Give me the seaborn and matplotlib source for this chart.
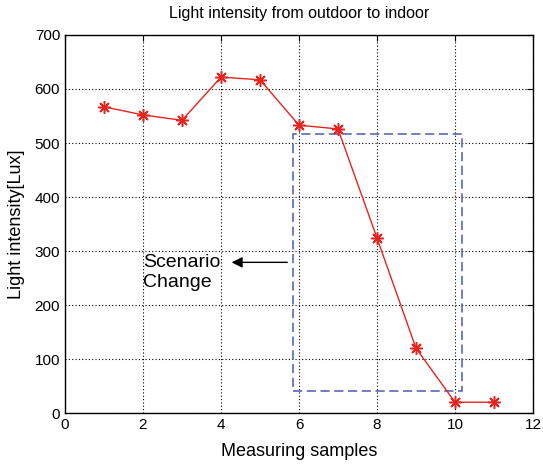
import pandas as pd
import matplotlib.pyplot as plt
import seaborn as sns
from matplotlib.patches import Rectangle

# ===============================
# Data
# ===============================
samples = [1, 2, 3, 4, 5, 6, 7, 8, 9, 10, 11]
lux = [567, 552, 542, 622, 617, 533, 526, 324, 120, 20, 20]

df = pd.DataFrame({'sample': samples, 'lux': lux})

sns.set_style('white', {'text.color': 'black', 'axes.labelcolor': 'black'})
plt.rcParams['font.family'] = ['Liberation Sans', 'DejaVu Sans']

fig = plt.figure(figsize=(5.43, 4.66), dpi=100)
ax = fig.add_axes([0.1197, 0.1137, 0.8619, 0.8112])

# MATLAB-style asterisk marker (8 spokes)
sns.lineplot(data=df, x='sample', y='lux', ax=ax, color='#e8231e',
             marker=(8, 2, 0), markersize=9, markeredgewidth=1.1,
             markeredgecolor='#e8231e', linewidth=1)

# dashed box around the scenario change region
ax.add_patch(Rectangle((5.84, 40), 10.18 - 5.84, 516 - 40, fill=False,
                       edgecolor='#4a5cb0', linestyle=(0, (6, 3)), linewidth=1.1))

ax.annotate('', xy=(4.2, 279), xytext=(5.77, 279),
            arrowprops=dict(arrowstyle='-|>', color='black', lw=1,
                            mutation_scale=16))
ax.text(2.0, 294, 'Scenario\nChange', fontsize=14, va='top', ha='left',
        linespacing=1.25, color='black')

ax.set_xlim(0, 12)
ax.set_ylim(0, 700)
ax.set_xticks(range(0, 13, 2))
ax.set_yticks(range(0, 701, 100))
ax.grid(True, color='black', linestyle=(0, (1, 2)), linewidth=0.8)
ax.tick_params(direction='in', top=True, right=True, length=4,
               labelsize=11, colors='black')
for s in ax.spines.values():
    s.set_color('black')
    s.set_linewidth(1)

ax.set_title('Light intensity from outdoor to indoor', fontsize=11.5, pad=12,
             color='black')
ax.set_xlabel('Measuring samples', fontsize=13, labelpad=8, color='black')
ax.set_ylabel('Light intensity[Lux]', fontsize=13, labelpad=7, color='black')

fig.savefig('out.png', dpi=100)
